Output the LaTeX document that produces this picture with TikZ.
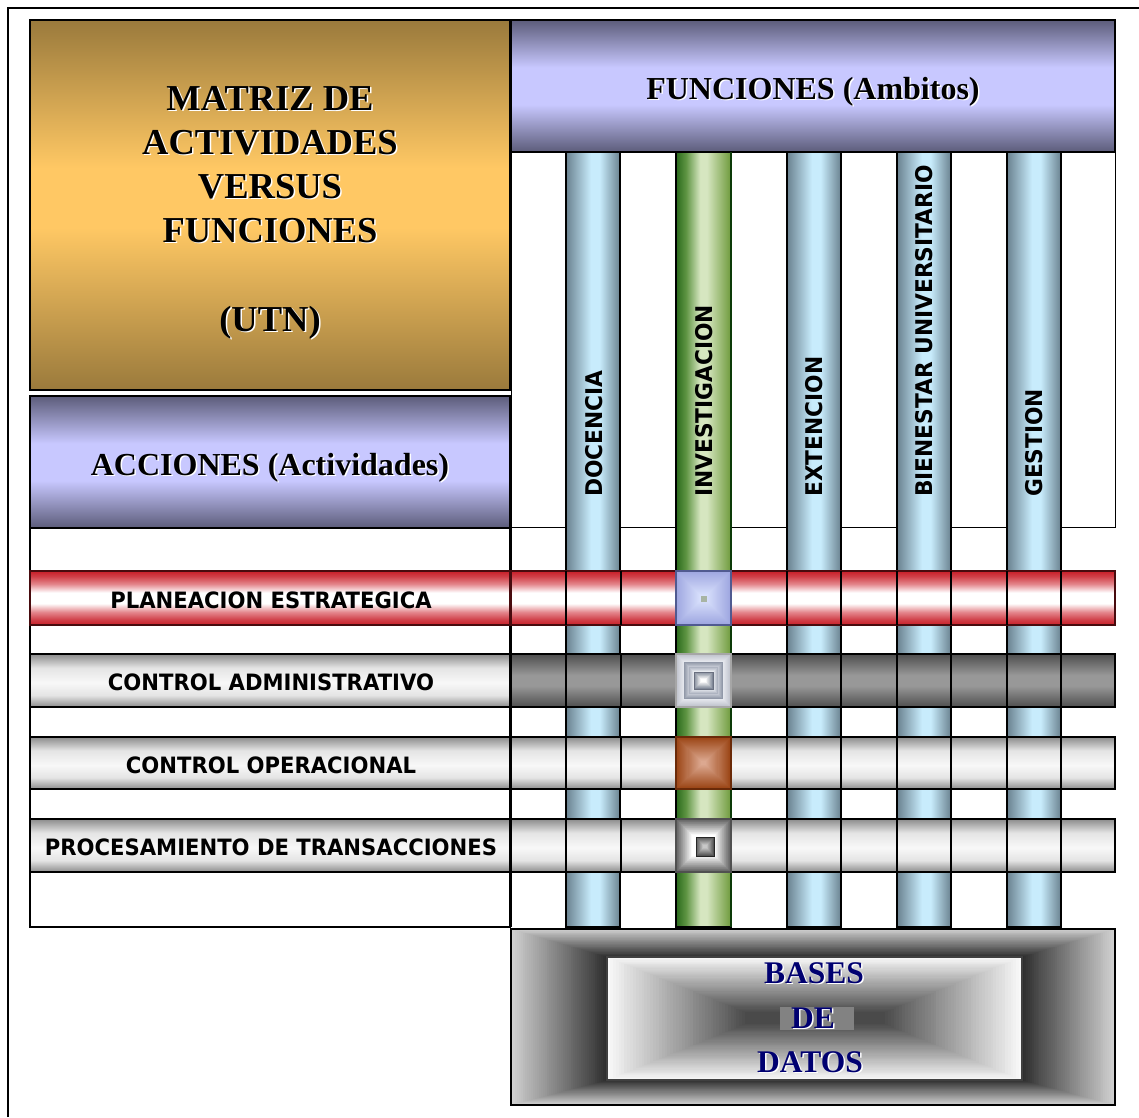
\documentclass[tikz,border=0pt]{standalone}
\usepackage{fontspec}
\setmainfont{Liberation Serif}
\newfontfamily\labfont[FakeStretch=0.94]{DejaVu Sans}
\newfontfamily\vlabfont[FakeStretch=0.945]{DejaVu Sans}
\usetikzlibrary{calc}

\definecolor{goldD}{HTML}{9A7A3C}
\definecolor{goldL}{HTML}{FFC864}
\definecolor{lavD}{HTML}{5C5C7A}
\definecolor{lavL}{HTML}{C8C8FF}
\definecolor{pbD}{HTML}{6A8290}
\definecolor{pbL}{HTML}{C8ECFC}
\definecolor{pgD}{HTML}{2A6A1C}
\definecolor{pgM}{HTML}{5E9442}
\definecolor{pgL}{HTML}{D6E6C0}
\definecolor{pgR}{HTML}{6E9A3C}
\definecolor{pgB}{HTML}{0C3A08}
\definecolor{redR}{HTML}{C81E28}
\definecolor{redP}{HTML}{E4868C}
\definecolor{silD}{HTML}{8C8C8C}
\definecolor{silM}{HTML}{E4E4E4}
\definecolor{silL}{HTML}{F8F8F8}
\definecolor{drkD}{HTML}{4E4E4E}
\definecolor{drkL}{HTML}{989898}
\definecolor{cAo}{HTML}{9EA6E0}
\definecolor{cAi}{HTML}{D8E0FC}
\definecolor{cAc}{HTML}{A8B4A4}
\definecolor{cAb}{HTML}{505A90}
\definecolor{cBa}{HTML}{BCC0CA}
\definecolor{cBb}{HTML}{E8EAF0}
\definecolor{cBc}{HTML}{8C94A4}
\definecolor{cBd}{HTML}{C8CCD6}
\definecolor{cBe}{HTML}{A8AEBC}
\definecolor{cBf}{HTML}{F0F2F6}
\definecolor{cBg}{HTML}{7C8494}
\definecolor{cBl}{HTML}{6A7080}
\definecolor{cuO}{HTML}{9A4414}
\definecolor{cuI}{HTML}{DCA890}
\definecolor{cuB}{HTML}{6A2A08}
\definecolor{cDo}{HTML}{5E5E5E}
\definecolor{cDd}{HTML}{505050}
\definecolor{cDi}{HTML}{C8C8C8}
\definecolor{bfO}{HTML}{D0D0D0}
\definecolor{bfI}{HTML}{2C2C2C}
\definecolor{biO}{HTML}{F8F8F8}
\definecolor{biI}{HTML}{4A4A4A}
\definecolor{biB}{HTML}{404040}
\definecolor{deBg}{HTML}{828282}
\definecolor{navy}{HTML}{000070}

\pgfdeclareverticalshading{goldsh}{100bp}{color(0bp)=(goldD); color(25bp)=(goldD); color(47bp)=(goldL); color(55bp)=(goldL); color(75bp)=(goldD); color(100bp)=(goldD)}
\pgfdeclareverticalshading{lavsh}{100bp}{color(0bp)=(lavD); color(25bp)=(lavD); color(43bp)=(lavL); color(57bp)=(lavL); color(75bp)=(lavD); color(100bp)=(lavD)}
\pgfdeclarehorizontalshading{pblue}{100bp}{color(0bp)=(pbD); color(25bp)=(pbD); color(48bp)=(pbL); color(56bp)=(pbL); color(75bp)=(pbD); color(100bp)=(pbD)}
\pgfdeclarehorizontalshading{pgreen}{100bp}{color(0bp)=(pgD); color(25bp)=(pgD); color(34bp)=(pgM); color(47bp)=(pgL); color(53bp)=(pgL); color(75bp)=(pgR); color(100bp)=(pgR)}
\pgfdeclareverticalshading{redsh}{100bp}{color(0bp)=(redR); color(25bp)=(redR); color(30bp)=(redR!85!white); color(37bp)=(redP); color(45bp)=(white); color(55bp)=(white); color(63bp)=(redP); color(70bp)=(redR!85!white); color(75bp)=(redR); color(100bp)=(redR)}
\pgfdeclareverticalshading{silsh}{100bp}{color(0bp)=(silD); color(25bp)=(silD); color(36bp)=(silM); color(48bp)=(silL); color(62bp)=(silM); color(75bp)=(silD); color(100bp)=(silD)}
\pgfdeclareverticalshading{drksh}{100bp}{color(0bp)=(drkD); color(25bp)=(drkD); color(45bp)=(drkL); color(55bp)=(drkL); color(75bp)=(drkD); color(100bp)=(drkD)}

\newcommand\setouter[4]{\def\oxa{#1}\def\oya{#2}\def\oxb{#3}\def\oyb{#4}}
\def\pyrN{24}
\newcommand\pyrbox[6]{%
  \foreach \k in {0,...,\pyrN}{%
    \pgfmathsetmacro\lbT{\k/\pyrN}%
    \pgfmathtruncatemacro\lbP{round(100*\k/\pyrN)}%
    \fill[#6!\lbP!#5] ({\oxa+(#1-\oxa)*\lbT},{\oya+(#2-\oya)*\lbT}) rectangle ({\oxb+(#3-\oxb)*\lbT},{\oyb+(#4-\oyb)*\lbT});
  }}

\tikzset{
  bx/.style={line width=1.2pt},
  ttl/.style={inner sep=0pt, anchor=base, font=\bfseries\fontsize{36.5}{44}\selectfont},
  hdr/.style={inner sep=0pt, anchor=base, font=\bfseries\fontsize{32}{36}\selectfont},
  bdt/.style={inner sep=0pt, anchor=base, text=navy, font=\bfseries\fontsize{31.5}{36}\selectfont},
  rlab/.style={inner sep=0pt, anchor=center, font=\labfont\bfseries\fontsize{22.5}{24}\selectfont},
  vlab/.style={rotate=90, anchor=west, inner sep=0pt, font=\vlabfont\bfseries\fontsize{23}{24}\selectfont},
  shd/.style={text=white, xshift=1.5pt, yshift=-1.5pt}
}

\begin{document}
\begin{tikzpicture}[x=1pt,y=-1pt]
\useasboundingbox (0,0) rectangle (1139,1117);
\draw[line width=1.5pt] (8,1117) -- (8,8) -- (1139,8);

% header boxes
\shade[shading=goldsh, draw=black, bx] (30,20) rectangle (510,390);
\shade[shading=lavsh, draw=black, bx] (511,20) rectangle (1115,152);
\shade[shading=lavsh, draw=black, bx] (30,396) rectangle (510,528);

% white header area and left white cells
\draw[line width=1pt, fill=white] (511,152) rectangle (1115,527);
\foreach \a/\b in {528/571, 625/654, 707/737, 789/819, 872/927}
  \draw[line width=1.1pt] (30,\a) rectangle (510,\b);
\draw[line width=1.1pt] (511,527) -- (511,927);

% pillars
\foreach \x in {566,787,897,1007}
  \shade[shading=pblue, draw=black, bx] (\x,152) rectangle ({\x+54},927);
\shade[shading=pgreen, draw=black, bx] (676,152) rectangle (731,927);
\draw[pgB, line width=2pt] (731,152) -- (731,927);

% rows
\shade[shading=redsh, draw=black!40!redR!60!black, bx] (30,571) rectangle (510,625);
\shade[shading=redsh, draw=black!40!redR!60!black, bx] (511,571) rectangle (1115,625);
\shade[shading=silsh, draw=black, bx] (30,654) rectangle (510,707);
\shade[shading=drksh, draw=black, bx] (511,654) rectangle (1115,707);
\shade[shading=silsh, draw=black, bx] (30,737) rectangle (510,789);
\shade[shading=silsh, draw=black, bx] (511,737) rectangle (1115,789);
\shade[shading=silsh, draw=black, bx] (30,819) rectangle (510,872);
\shade[shading=silsh, draw=black, bx] (511,819) rectangle (1115,872);
\foreach \x in {566,621,676,731,787,841,897,951,1007,1061}
  \foreach \a/\b in {571/625, 654/707, 737/789, 819/872}
    \draw[line width=1.1pt] (\x,\a) -- (\x,\b);

% intersection cells
\setouter{676}{571}{731}{625}\pyrbox{700}{595}{707}{601}{cAo}{cAi}
\fill[cAc] (700.5,595.5) rectangle (706.5,601.5);
\draw[cAb, line width=1.2pt] (676,571) rectangle (731,625);

\setouter{676}{654}{731}{707}\pyrbox{684}{662}{723}{699}{cBa}{cBb}
\setouter{684}{662}{723}{699}\pyrbox{689}{667}{718}{694}{cBc}{cBd}
\setouter{689}{667}{718}{694}\pyrbox{694}{672}{713}{689}{cBe}{cBf}
\setouter{694}{672}{713}{689}\pyrbox{701}{679}{706}{682}{cBg}{white}
\draw[cBl, line width=0.8pt] (694,672) rectangle (713,689);
\draw[gray!70, line width=1.2pt] (676,654) rectangle (731,707);

\setouter{676}{737}{731}{789}\pyrbox{701}{761}{706}{765}{cuO}{cuI}
\draw[cuB, line width=1.2pt] (676,737) rectangle (731,789);

\setouter{676}{819}{731}{872}\pyrbox{692}{835}{715}{856}{cDo}{white}
\setouter{696}{837}{714}{856}\pyrbox{703}{845}{707}{848}{cDd}{cDi}
\draw[black!85, line width=1pt] (696,837) rectangle (714,856);
\draw[cDd, line width=1.2pt] (676,819) rectangle (731,872);

% bases de datos
\def\pyrN{48}
\setouter{511}{929}{1115}{1105}\pyrbox{607}{957}{1022}{1080}{bfO}{bfI}
\setouter{607}{957}{1022}{1080}\pyrbox{745}{1012}{885}{1024}{biO}{biI}
\draw[black, bx] (511,929) rectangle (1115,1105);
\draw[biB, bx] (607,957) rectangle (1022,1080);
\fill[deBg] (780,1007) rectangle (854,1030);

% title texts
\node[ttl, shd] (t1s) at (270,110) {MATRIZ DE};
\node[ttl] (t1) at (270,110) {MATRIZ DE};
\node[ttl, shd] (t2s) at (270,154) {ACTIVIDADES};
\node[ttl] (t2) at (270,154) {ACTIVIDADES};
\node[ttl, shd] (t3s) at (270,198) {VERSUS};
\node[ttl] (t3) at (270,198) {VERSUS};
\node[ttl, shd] (t4s) at (270,242) {FUNCIONES};
\node[ttl] (t4) at (270,242) {FUNCIONES};
\node[ttl, shd] (t5s) at (270,331) {(UTN)};
\node[ttl] (t5) at (270,331) {(UTN)};

\node[hdr, shd] (funS) at (813,99) {FUNCIONES (Ambitos)};
\node[hdr] (fun) at (813,99) {FUNCIONES (Ambitos)};
\node[hdr, shd] (accS) at (270,475) {ACCIONES (Actividades)};
\node[hdr] (acc) at (270,475) {ACCIONES (Actividades)};

% column labels
\node[vlab] (lDoc) at (594,497) {DOCENCIA};
\node[vlab] (lInv) at (704,497) {INVESTIGACION};
\node[vlab] (lExt) at (814,497) {EXTENCION};
\node[vlab] (lBie) at (924.5,497) {BIENESTAR UNIVERSITARIO};
\node[vlab] (lGes) at (1034.5,497) {GESTION};

% row labels
\node[rlab] (rPla) at (271,600) {PLANEACION ESTRATEGICA};
\node[rlab] (rAdm) at (271,682) {CONTROL ADMINISTRATIVO};
\node[rlab] (rOpe) at (271,765) {CONTROL OPERACIONAL};
\node[rlab] (rPro) at (271,847) {PROCESAMIENTO DE TRANSACCIONES};

% bases de datos text
\node[bdt, shd] (b1s) at (814,983) {BASES};
\node[bdt] (b1) at (814,983) {BASES};
\node[bdt, shd] (b2s) at (813,1028) {DE};
\node[bdt] (b2) at (813,1028) {DE};
\node[bdt, shd] (b3s) at (810,1072) {DATOS};
\node[bdt] (b3) at (810,1072) {DATOS};
\end{tikzpicture}
\end{document}
